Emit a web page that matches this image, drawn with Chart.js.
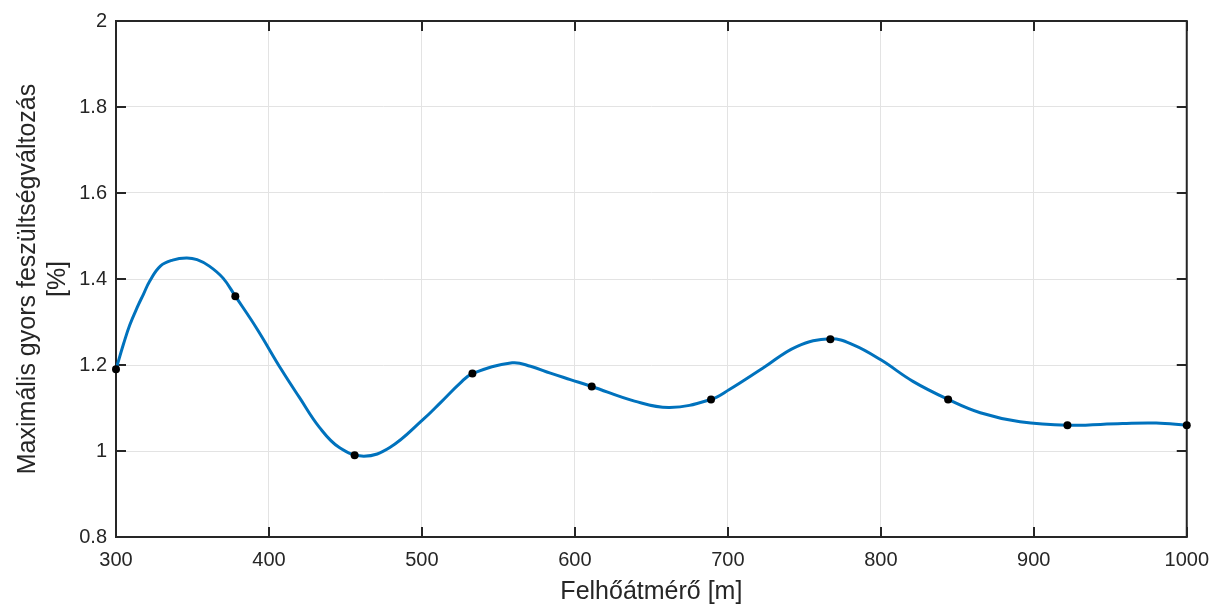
<!DOCTYPE html>
<html>
<head>
<meta charset="utf-8">
<script src="https://cdn.jsdelivr.net/npm/chart.js@4.4.1/dist/chart.umd.min.js"></script>
<style>
html,body{margin:0;padding:0;background:#fff;}
#wrap{width:1220px;height:605px;}
</style>
</head>
<body>
<div id="wrap"><canvas id="c" width="1220" height="605"></canvas></div>
<script>
// Measured points (markers)
const pointX = [300, 378, 456, 533, 611, 689, 767, 844, 922, 1000];
const pointY = [1.19, 1.36, 0.99, 1.18, 1.15, 1.12, 1.26, 1.12, 1.06, 1.06];

// Smooth curve
const curveX = [300, 305, 309, 314, 318, 322, 329, 337, 346, 353, 361, 370, 378, 392, 408, 420, 433, 446, 462, 479, 501, 512, 525, 533, 559, 571, 584, 597, 611, 639, 662, 689, 701, 723, 745, 767, 782, 800, 821, 844, 865, 891, 922, 958, 980, 1000];
const curveY = [1.19, 1.25, 1.293, 1.335, 1.365, 1.395, 1.43, 1.444, 1.449, 1.445, 1.43, 1.402, 1.36, 1.285, 1.19, 1.124, 1.055, 1.008, 0.988, 1.008, 1.074, 1.112, 1.158, 1.18, 1.205, 1.197, 1.181, 1.166, 1.15, 1.116, 1.101, 1.12, 1.143, 1.193, 1.243, 1.261, 1.247, 1.212, 1.162, 1.12, 1.089, 1.068, 1.06, 1.064, 1.065, 1.06];

const xTicks = [300, 400, 500, 600, 700, 800, 900, 1000];
const yTicks = [0.8, 1, 1.2, 1.4, 1.6, 1.8, 2];

const xTitle = 'Felhőátmérő [m]';
const yTitle = ['Maximális gyors feszültségváltozás', '[%]'];

const AXIS = '#262626';
const GRID = '#e3e3e3';
const FONT = "'Liberation Sans', Arial, Helvetica, sans-serif";

const framePlugin = {
  id: 'frame',
  beforeDatasetsDraw(chart) {
    const {ctx, chartArea: a, scales: {x, y}} = chart;
    ctx.save();
    ctx.strokeStyle = AXIS;
    ctx.lineWidth = 2;
    const tl = 10;
    ctx.beginPath();
    xTicks.forEach(v => {
      const px = Math.round(x.getPixelForValue(v));
      ctx.moveTo(px, a.bottom); ctx.lineTo(px, a.bottom - tl);
      ctx.moveTo(px, a.top); ctx.lineTo(px, a.top + tl);
    });
    yTicks.forEach(v => {
      const py = Math.round(y.getPixelForValue(v));
      ctx.moveTo(a.left, py); ctx.lineTo(a.left + tl, py);
      ctx.moveTo(a.right, py); ctx.lineTo(a.right - tl, py);
    });
    ctx.stroke();
    ctx.beginPath();
    ctx.rect(a.left, a.top, a.right - a.left, a.bottom - a.top);
    ctx.stroke();
    ctx.restore();
  }
};

new Chart(document.getElementById('c'), {
  type: 'scatter',
  data: {
    datasets: [
      {
        label: 'curve',
        data: curveX.map((v, i) => ({x: v, y: curveY[i]})),
        showLine: true,
        borderColor: '#0072BD',
        borderWidth: 3,
        pointRadius: 0,
        tension: 0.4,
        order: 2
      },
      {
        label: 'points',
        data: pointX.map((v, i) => ({x: v, y: pointY[i]})),
        showLine: false,
        backgroundColor: '#000',
        borderColor: '#000',
        pointRadius: 4,
        pointBorderWidth: 0,
        clip: false,
        order: 1
      }
    ]
  },
  options: {
    responsive: false,
    animation: false,
    devicePixelRatio: 1,
    layout: {padding: {top: 17, right: 33, left: 0, bottom: 0}},
    plugins: {legend: {display: false}, tooltip: {enabled: false}},
    scales: {
      x: {
        type: 'linear',
        min: 300, max: 1000,
        afterBuildTicks(s) { s.ticks = xTicks.map(v => ({value: v})); },
        afterFit(s) { s.height = 68; },
        grid: {color: GRID, lineWidth: 1, drawTicks: false},
        border: {display: false},
        ticks: {
          color: AXIS, padding: 11, maxRotation: 0,
          font: {family: FONT, size: 20},
          callback: v => String(v)
        },
        title: {
          display: true, text: xTitle, color: AXIS,
          font: {family: FONT, size: 25, lineHeight: 1.0}, padding: {top: 0, bottom: 0}
        }
      },
      y: {
        type: 'linear',
        min: 0.8, max: 2,
        afterBuildTicks(s) { s.ticks = yTicks.map(v => ({value: v})); },
        afterFit(s) { s.width = 116; },
        grid: {color: GRID, lineWidth: 1, drawTicks: false},
        border: {display: false},
        ticks: {
          color: AXIS, padding: 9,
          font: {family: FONT, size: 20},
          callback: v => String(Math.round(v * 10) / 10)
        },
        title: {
          display: true, text: yTitle, color: AXIS,
          font: {family: FONT, size: 25, lineHeight: 1.2}, padding: {top: 13, bottom: 0}
        }
      }
    }
  },
  plugins: [framePlugin]
});
</script>
</body>
</html>
